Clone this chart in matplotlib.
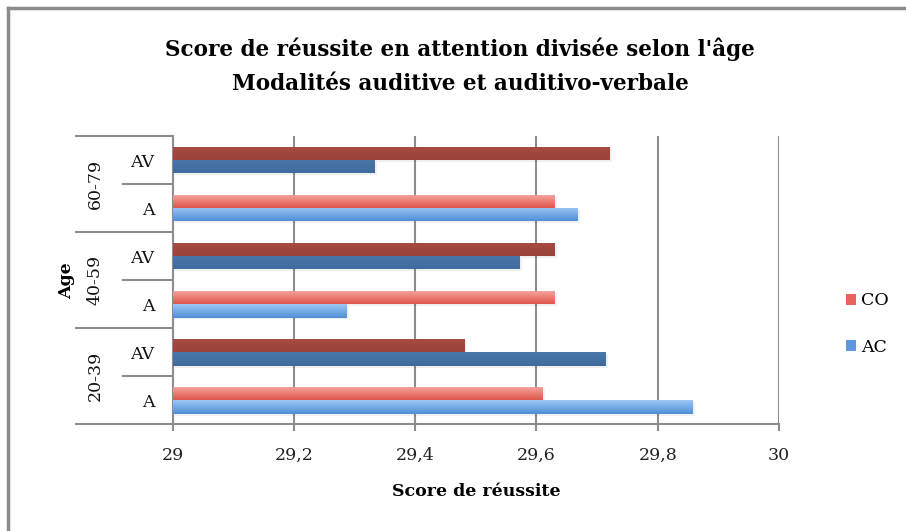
import numpy as np
import matplotlib
matplotlib.use("Agg")
import matplotlib.pyplot as plt
from matplotlib.colors import LinearSegmentedColormap
from matplotlib.patches import Patch

# data, bottom to top as drawn
groups = ["20-39", "40-59", "60-79"]
modes = ["A", "AV", "A", "AV", "A", "AV"]
co = [29.61, 29.48, 29.63, 29.63, 29.63, 29.72]
ac = [29.857, 29.714, 29.286, 29.572, 29.667, 29.333]
xticks = [29, 29.2, 29.4, 29.6, 29.8, 30]
xtick_labels = ["29", "29,2", "29,4", "29,6", "29,8", "30"]

plt.rcParams['font.family'] = ['DejaVu Serif']

fig = plt.figure(figsize=(9.06, 5.31), dpi=100)
ax = fig.add_axes([0.1906, 0.2009, 0.6692, 0.543])

# light (A) vs dark (AV) shades
co_light = ("#f6a8a2", "#e0554b")
ac_light = ("#9cc6f4", "#4f8fd6")
co_dark = ("#a84a42", "#9c433b")
ac_dark = ("#4a78aa", "#3f6b9c")

y = np.arange(len(modes))
h = 0.278


def grad_bar(ax, yc, val, cols):
    bars = ax.barh(yc, val - 29, left=29, height=h, color=cols[1], zorder=3)
    for b in bars:
        x0, y0 = b.get_x(), b.get_y()
        w, hh = b.get_width(), b.get_height()
        cmap = LinearSegmentedColormap.from_list("g", [cols[1], cols[0]])
        grad = np.linspace(0, 1, 50).reshape(-1, 1)
        im = ax.imshow(grad, cmap=cmap, aspect='auto', origin='lower',
                       extent=[x0, x0 + w, y0, y0 + hh], zorder=4)
        im.set_clip_path(b)
        # faint shadow under bar
        ax.barh(y0 + hh / 2 - 0.04, w, left=x0 + 0.004, height=hh,
                color="#000000", alpha=0.06, zorder=2)


for i, m in enumerate(modes):
    dark = (m == "AV")
    grad_bar(ax, y[i] + h / 2, co[i], co_dark if dark else co_light)
    grad_bar(ax, y[i] - h / 2, ac[i], ac_dark if dark else ac_light)

ax.set_xlim(29, 30)
ax.set_ylim(-0.5, len(modes) - 0.5)
ax.set_xticks(xticks)
ax.set_xticklabels(xtick_labels, fontsize=12.5, color="#222222")
ax.set_yticks(y)
ax.set_yticklabels(modes, fontsize=12.5, color="#111111")
ax.tick_params(axis='y', length=0, pad=13)
ax.tick_params(axis='x', length=5, color="#8c8c8c", width=1.5, pad=11)
ax.grid(axis='x', color="#8c8c8c", linewidth=1.5, zorder=1)
for s in ["top", "right"]:
    ax.spines[s].set_visible(False)
for s in ["left", "bottom"]:
    ax.spines[s].set_color("#8c8c8c")
    ax.spines[s].set_linewidth(1.5)

# hierarchical category boxes
tr = ax.get_yaxis_transform()
for k in range(len(groups) + 1):
    yy = 2 * k - 0.5
    ax.plot([-0.16, 0], [yy, yy], color="#8c8c8c", lw=1.5, transform=tr,
            clip_on=False)
for k in range(len(groups)):
    yy = 2 * k + 0.5
    ax.plot([-0.082, 0], [yy, yy], color="#8c8c8c", lw=1.5, transform=tr,
            clip_on=False)
    ax.text(-0.128, 2 * k + 0.5, groups[k], rotation=90, ha='center',
            va='center', fontsize=12.5, color="#111111", transform=tr)

ax.set_xlabel("Score de réussite", fontsize=12.5, fontweight='bold',
              labelpad=14)
ax.set_ylabel("Age", fontsize=12.5, fontweight='bold', labelpad=40)

fig.suptitle("Score de réussite en attention divisée selon l'âge\n"
             "Modalités auditive et auditivo-verbale",
             x=0.508, y=0.93, fontsize=15.5, fontweight='bold',
             linespacing=1.75)

handles = [Patch(facecolor="#e4655d", label="CO"),
           Patch(facecolor="#5b98de", label="AC")]
fig.legend(handles=handles, loc='center left', bbox_to_anchor=(0.916, 0.39),
           frameon=False, fontsize=12.5, handlelength=0.6, handleheight=0.6,
           handletextpad=0.3, labelspacing=1.7)

# outer chart border (top and left visible)
fig.add_artist(plt.Line2D([0.009, 1], [0.985, 0.985], color="#8c8c8c",
                          lw=2.5, transform=fig.transFigure))
fig.add_artist(plt.Line2D([0.009, 0.009], [0, 0.985], color="#8c8c8c",
                          lw=2.5, transform=fig.transFigure))

fig.savefig("out.png", dpi=100)
